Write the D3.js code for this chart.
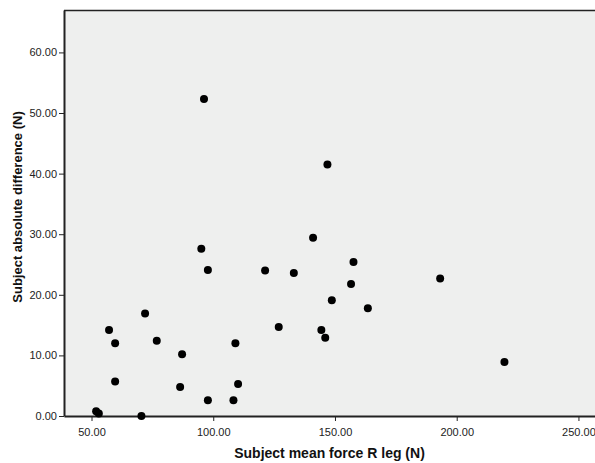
<!DOCTYPE html>
<html>
<head>
<meta charset="utf-8">
<script src="https://cdn.jsdelivr.net/npm/d3@7"></script>
<style>
  body { margin: 0; background: #fff; }
  text { font-family: "Liberation Sans", Arial, sans-serif; }
</style>
</head>
<body>
<div id="chart"></div>
<script>
// mean force R leg (N) vs absolute difference (N)
var forceR = [96.2, 95.1, 146.9, 141.0, 157.6, 121.3, 133.1, 156.6, 193.2, 148.7,
              163.5, 126.9, 144.4, 146.0, 219.6, 97.8, 72.0, 57.2, 59.7, 76.8,
              109.1, 87.2, 59.7, 86.4, 110.2, 97.8, 108.3, 51.9, 53.0, 70.5];
var absDiff = [52.3, 27.6, 41.5, 29.4, 25.4, 24.0, 23.6, 21.8, 22.7, 19.1,
               17.8, 14.7, 14.2, 12.9, 8.9, 24.1, 16.9, 14.2, 12.0, 12.4,
               12.0, 10.2, 5.7, 4.8, 5.3, 2.6, 2.6, 0.8, 0.4, 0.0];
var xTicks = [50, 100, 150, 200, 250];
var yTicks = [0, 10, 20, 30, 40, 50, 60];

var width = 595, height = 463;
var margin = {top: 10, right: 0, bottom: 47, left: 64};

var svg = d3.select('#chart')
  .append('svg')
    .attr('width', width)
    .attr('height', height);

var x = d3.scaleLinear()
  .domain([38.7, 256.8])
  .range([margin.left, width - margin.right]);

var y = d3.scaleLinear()
  .domain([0, 67])
  .range([height - margin.bottom, margin.top]);

// plot background
svg.append('rect')
  .attr('x', margin.left)
  .attr('y', margin.top)
  .attr('width', width - margin.left - margin.right)
  .attr('height', height - margin.top - margin.bottom)
  .style('fill', '#eeefee');

// top border
svg.append('line')
  .attr('x1', margin.left).attr('x2', width)
  .attr('y1', margin.top + 0.5).attr('y2', margin.top + 0.5)
  .style('stroke', '#222')
  .style('stroke-width', 1.5);

var xAxis = svg.append('g')
  .attr('transform', 'translate(0,' + (height - margin.bottom) + ')')
  .call(d3.axisBottom(x).tickValues(xTicks).tickSize(5).tickSizeOuter(0)
    .tickFormat(d3.format('.2f')));

var yAxis = svg.append('g')
  .attr('transform', 'translate(' + margin.left + ',0)')
  .call(d3.axisLeft(y).tickValues(yTicks).tickSize(5).tickSizeOuter(0)
    .tickFormat(d3.format('.2f')));

[xAxis, yAxis].forEach(function(g) {
  g.select('.domain').style('stroke', '#222').style('stroke-width', 2);
  g.selectAll('.tick line').style('stroke', '#222').style('stroke-width', 1);
  g.selectAll('.tick text')
    .style('font-family', '"Liberation Sans", Arial, sans-serif')
    .style('font-size', '11px')
    .style('fill', '#222');
});
xAxis.selectAll('.tick text').attr('dy', '1.1em');
yAxis.selectAll('.tick text').attr('x', -7);

svg.selectAll('circle.pt')
  .data(forceR)
  .enter()
  .append('circle')
    .attr('class', 'pt')
    .attr('cx', function(d) { return x(d); })
    .attr('cy', function(d, i) { return y(absDiff[i]); })
    .attr('r', 4)
    .style('fill', '#000');

svg.append('text')
  .attr('x', (margin.left + width) / 2)
  .attr('y', 458)
  .style('text-anchor', 'middle')
  .style('font-size', '14px')
  .style('font-weight', 'bold')
  .style('fill', '#111')
  .text('Subject mean force R leg (N)');

svg.append('text')
  .attr('transform', 'translate(22,207) rotate(-90)')
  .style('text-anchor', 'middle')
  .style('font-size', '13px')
  .style('font-weight', 'bold')
  .style('fill', '#111')
  .text('Subject absolute difference (N)');
</script>
</body>
</html>
